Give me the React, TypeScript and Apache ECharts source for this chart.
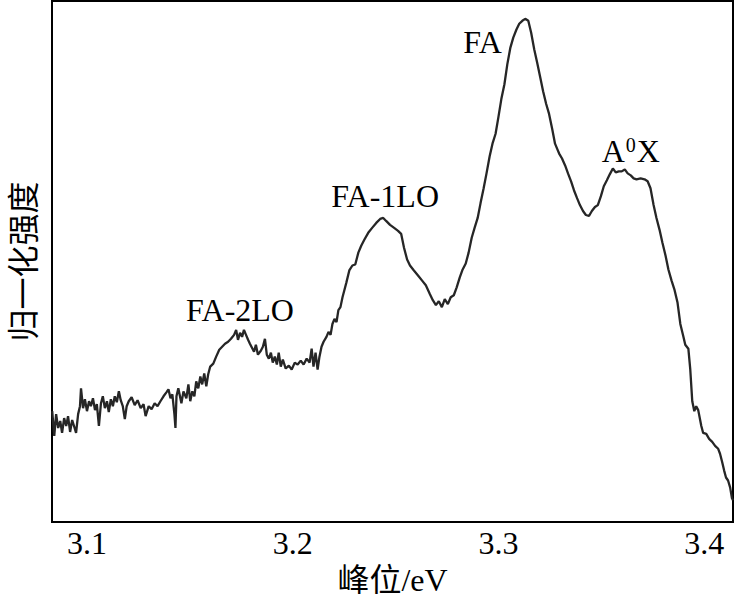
import React, { useEffect, useRef } from "react";
import * as echarts from "echarts";

// Photon energy (eV) and normalized PL intensity (a.u.)
const energy: number[] = [
  3.0831, 3.0841, 3.085, 3.086, 3.087, 3.0879, 3.0889, 3.0899, 3.0908, 3.0918,
  3.0928, 3.0937, 3.0947, 3.0957, 3.0966, 3.0971, 3.0981, 3.099, 3.1, 3.101,
  3.1019, 3.1029, 3.1039, 3.1048, 3.1058, 3.1068, 3.1077, 3.1087, 3.1097, 3.1106,
  3.1116, 3.1126, 3.1135, 3.1145, 3.1155, 3.1164, 3.1174, 3.1184, 3.1193, 3.1203,
  3.1217, 3.1232, 3.1246, 3.1261, 3.1275, 3.1285, 3.13, 3.1314, 3.1329, 3.1343,
  3.1357, 3.1372, 3.1386, 3.1396, 3.1406, 3.1415, 3.1425, 3.143, 3.1435, 3.1444,
  3.1459, 3.1469, 3.1483, 3.1493, 3.1502, 3.1512, 3.1522, 3.1531, 3.1541, 3.1551,
  3.156, 3.157, 3.158, 3.1589, 3.1599, 3.1614, 3.1628, 3.1643, 3.1657, 3.1671,
  3.1686, 3.17, 3.1715, 3.1725, 3.1734, 3.1744, 3.1754, 3.1763, 3.1773, 3.1783,
  3.1792, 3.1802, 3.1812, 3.1821, 3.1831, 3.1845, 3.1855, 3.1865, 3.1874, 3.1884,
  3.1894, 3.1903, 3.1913, 3.1923, 3.1932, 3.1942, 3.1952, 3.1966, 3.1981, 3.1995,
  3.201, 3.2024, 3.2039, 3.2053, 3.2068, 3.2082, 3.2092, 3.2101, 3.2111, 3.2121,
  3.213, 3.214, 3.215, 3.2164, 3.2174, 3.2184, 3.2193, 3.2203, 3.2213, 3.2222,
  3.2232, 3.2242, 3.2251, 3.2261, 3.2275, 3.229, 3.2304, 3.2319, 3.2333, 3.2348,
  3.2367, 3.2386, 3.2406, 3.2425, 3.244, 3.2454, 3.2473, 3.2493, 3.2512, 3.2527,
  3.2541, 3.2556, 3.257, 3.2589, 3.2609, 3.2628, 3.2647, 3.2667, 3.2681, 3.2696,
  3.271, 3.2725, 3.2739, 3.2754, 3.2768, 3.2783, 3.2797, 3.2812, 3.2826, 3.2841,
  3.2855, 3.287, 3.2884, 3.2899, 3.2913, 3.2928, 3.2942, 3.2957, 3.2971, 3.2986,
  3.3, 3.3014, 3.3029, 3.3043, 3.3058, 3.3072, 3.3087, 3.3101, 3.3116, 3.313,
  3.3145, 3.3159, 3.3174, 3.3188, 3.3203, 3.3217, 3.3232, 3.3246, 3.3261, 3.3275,
  3.3285, 3.3295, 3.3309, 3.3324, 3.3338, 3.3353, 3.3367, 3.3382, 3.3396, 3.3411,
  3.3425, 3.344, 3.3454, 3.3469, 3.3483, 3.3498, 3.3512, 3.3527, 3.3541, 3.3556,
  3.357, 3.3585, 3.3599, 3.3614, 3.3628, 3.3643, 3.3657, 3.3671, 3.3691, 3.371,
  3.3725, 3.3739, 3.3754, 3.3768, 3.3783, 3.3797, 3.3812, 3.3826, 3.3841, 3.3855,
  3.387, 3.3884, 3.3899, 3.3908, 3.3923, 3.3932, 3.3942, 3.3952, 3.3961, 3.3971,
  3.3986, 3.3995, 3.401, 3.4024, 3.4039, 3.4053, 3.4068, 3.4077, 3.4087, 3.4097,
  3.4106, 3.4116, 3.4126, 3.4135, 3.414,
];

const intensity: number[] = [
  112, 87, 109, 95, 102, 90, 105, 97, 107, 91,
  103, 97, 90, 109, 117, 135, 115, 124, 112, 122,
  117, 125, 113, 119, 97, 120, 127, 115, 122, 111,
  124, 117, 127, 121, 132, 123, 117, 104, 117, 122,
  126, 118, 123, 115, 119, 107, 117, 114, 120, 117,
  122, 127, 131, 134, 125, 129, 109, 95, 127, 135,
  120, 132, 125, 139, 122, 132, 127, 142, 135, 147,
  139, 150, 137, 149, 157, 160, 167, 174, 177, 180,
  182, 185, 189, 194, 184, 191, 187, 194, 189, 184,
  180, 176, 172, 179, 169, 173, 177, 185, 169, 165,
  171, 161, 167, 159, 171, 157, 164, 155, 158, 154,
  161, 159, 163, 159, 165, 161, 175, 157, 171, 154,
  167, 177, 182, 187, 192, 189, 200, 205, 202, 214,
  217, 227, 234, 242, 254, 259, 260, 272, 279, 285,
  292, 297, 302, 306, 307, 304, 300, 297, 294, 291,
  277, 265, 259, 254, 249, 244, 239, 230, 224, 219,
  223, 217, 225, 220, 227, 229, 237, 247, 255, 261,
  272, 287, 297, 307, 322, 337, 352, 369, 382, 392,
  409, 427, 442, 462, 479, 489, 497, 503, 506, 508,
  506, 494, 477, 464, 449, 435, 422, 412, 397, 382,
  377, 372, 367, 360, 352, 344, 335, 327, 320, 314,
  310, 309, 314, 318, 320, 329, 339, 345, 351, 357,
  353, 354, 354, 356, 352, 350, 347, 346, 347, 346,
  344, 337, 320, 307, 295, 282, 269, 255, 244, 235,
  222, 200, 187, 179, 175, 155, 122, 112, 117, 113,
  97, 90, 89, 84, 81, 77, 74, 69, 61, 52,
  45, 42, 35, 24, 22,
];

const xTickLabels: number[] = [3.1, 3.2, 3.3, 3.4];

// Peak annotations: label, energy, intensity level at the label's bottom edge
const peakNames: string[] = ["FA-2LO", "FA-1LO", "FA", "{a|A}{s|0}{a|X}"];
const peakEnergy: number[] = [3.1744, 3.2449, 3.2923, 3.3643];
const peakLabelLevel: number[] = [198, 313, 468, 358];

const SERIF = '"Liberation Serif", "Times New Roman", "Noto Sans CJK SC", serif';

export default function App() {
  const ref = useRef<HTMLDivElement>(null);

  useEffect(() => {
    if (!ref.current) return;
    const chart = echarts.init(ref.current, undefined, { renderer: "svg" });
    const data = energy.map((e, i) => [e, intensity[i]]);
    chart.setOption({
      animation: false,
      backgroundColor: "#ffffff",
      textStyle: { fontFamily: SERIF },
      grid: {
        left: 48,
        right: 3,
        top: 1,
        bottom: 74,
        show: true,
        borderColor: "#000",
        borderWidth: 2,
        backgroundColor: "transparent",
      },
      xAxis: {
        type: "value",
        min: 3.083,
        max: 3.414,
        name: "峰位/eV",
        nameLocation: "middle",
        nameGap: 41,
        nameTextStyle: { fontSize: 32, color: "#000", fontFamily: SERIF },
        axisLine: { show: true, lineStyle: { color: "#000", width: 2 } },
        axisTick: { show: false },
        splitLine: { show: false },
        axisLabel: {
          customValues: xTickLabels,
          formatter: (v: number) => v.toFixed(1),
          fontSize: 32,
          color: "#000",
          margin: 5,
          fontFamily: SERIF,
        },
      },
      yAxis: {
        type: "value",
        min: 0,
        max: 526,
        name: "归一化强度",
        nameLocation: "middle",
        nameRotate: 90,
        nameGap: 12,
        nameTextStyle: { fontSize: 32, color: "#000", fontFamily: SERIF },
        axisLine: { show: true, lineStyle: { color: "#000", width: 2 } },
        axisTick: { show: false },
        axisLabel: { show: false },
        splitLine: { show: false },
      },
      series: [
        {
          type: "line",
          data,
          showSymbol: false,
          symbol: "none",
          lineStyle: { color: "#262626", width: 2.3 },
          clip: true,
          markPoint: {
            symbol: "circle",
            symbolSize: 0,
            itemStyle: { color: "transparent" },
            label: {
              show: true,
              position: "top",
              distance: 0,
              color: "#000",
              fontSize: 32,
              fontFamily: SERIF,
              rich: {
                a: { fontSize: 32, color: "#000", fontFamily: SERIF, verticalAlign: "bottom" },
                s: { fontSize: 20, color: "#000", fontFamily: SERIF, verticalAlign: "top", padding: [0, 1, 0, 1] },
              },
            },
            data: peakNames.map((n, i) => ({
              coord: [peakEnergy[i], peakLabelLevel[i]],
              value: n,
              label: { formatter: n },
            })),
          },
        },
      ],
    });
    return () => chart.dispose();
  }, []);

  return (
    <div
      ref={ref}
      style={{ position: "fixed", left: 0, top: 0, width: 736, height: 601, background: "#fff" }}
    />
  );
}
